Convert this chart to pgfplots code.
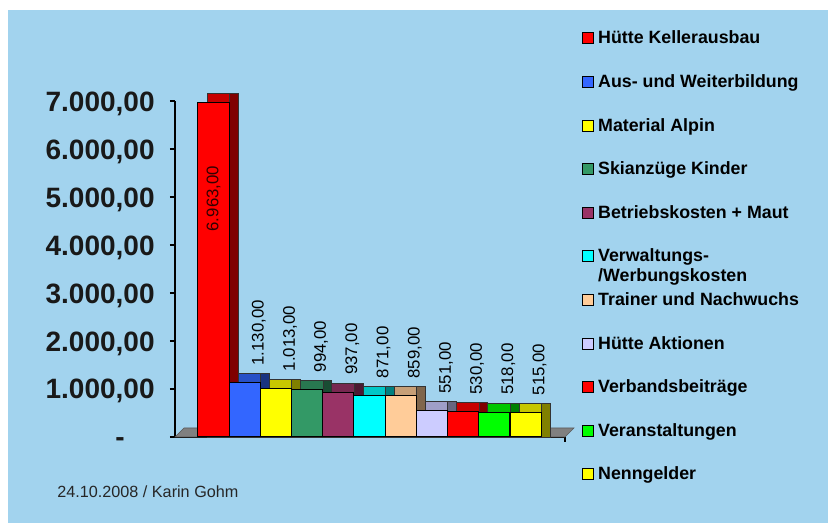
\documentclass[border=0pt]{standalone}
\usepackage{pgfplots}
\pgfplotsset{compat=1.18}
\usepackage{fontspec}
\setmainfont{Liberation Sans}

\definecolor{bgblue}{RGB}{162,211,238}
\definecolor{cRed}{RGB}{255,0,0}
\definecolor{cBlue}{RGB}{51,102,255}
\definecolor{cYellow}{RGB}{255,255,0}
\definecolor{cGreen}{RGB}{51,153,102}
\definecolor{cMaroon}{RGB}{153,51,102}
\definecolor{cCyan}{RGB}{0,255,255}
\definecolor{cPeach}{RGB}{255,204,153}
\definecolor{cLav}{RGB}{204,204,255}
\definecolor{cLime}{RGB}{0,255,0}

% one bar: x, value, colour, label style, legend text
% (top face, side face, front face)
\newcommand\cbar[5]{%
  \addplot[fill=#3!78!black, draw=black!80, line width=0.3pt, bar shift=4.5pt,
    forget plot, y filter/.expression={y+187.5}] coordinates {(#1,#2)};
  \addplot[fill=#3!50!black, draw=black!80, line width=0.3pt, bar width=0.288,
    bar shift=10.05pt, forget plot, y filter/.expression={y+187.5}] coordinates {(#1,#2)};
  \addplot[fill=#3, draw=black, line width=0.5pt,
    nodes near coords, nodes near coords style={#4}] coordinates {(#1,#2)};
  \addlegendentry{\strut #5}
}

\tikzset{
  lab/.style={xshift=7pt, yshift=5pt, rotate=90, anchor=west, text=black},
  labin/.style={yshift=-28pt, rotate=90, anchor=east, text=black!80!red},
}

\begin{document}
\begin{tikzpicture}
\fill[white] (-87.5pt,218.5pt) rectangle (326.5pt,-43pt);
\fill[bgblue] (-83.5pt,213.5pt) rectangle (326.5pt,-43pt);
\begin{axis}[
  scale only axis, width=195pt, height=168pt,
  ybar, bar shift=0pt, bar width=1,
  clip=false, enlargelimits=false,
  xmin=-1.237, xmax=11.263, ymin=0, ymax=7000,
  axis x line*=bottom, axis y line*=left,
  axis line style={black, line width=0.6pt},
  tick align=outside, major tick length=2.5pt,
  tick style={black, line width=0.6pt},
  xtick={11.263}, xticklabels={},
  ytick={0,1000,...,7000},
  yticklabels={{-\kern15pt},{1.000,00},{2.000,00},{3.000,00},{4.000,00},{5.000,00},{6.000,00},{7.000,00}},
  yticklabel style={font=\bfseries\fontsize{14}{16}\selectfont, text=black!90,
    anchor=east, inner sep=0pt, text height=10pt, text depth=0pt, xshift=-7.5pt},
  /pgf/number format/.cd, fixed, fixed zerofill, precision=2, use comma,
    1000 sep={.}, assume math mode=true, /pgfplots/.cd,
  every node near coord/.append style={font=\fontsize{8.4}{10}\selectfont},
  legend image code/.code={\draw[#1, draw=black, line width=0.5pt] (0pt,-2.75pt) rectangle (5.5pt,2.75pt);},
  legend style={draw=none, fill=none, at={(1.043,1.219)}, anchor=north west,
    inner sep=0pt, row sep=11.3pt, column sep=1pt,
    nodes={inner sep=1pt},
    font=\bfseries\fontsize{8.9}{10}\selectfont},
  legend cell align=left,
]
% floor
\addplot[sharp plot, fill=gray, draw=gray!70!black, line width=0.3pt, forget plot]
  coordinates {(-1.237,0) (-0.95,187.5) (11.55,187.5) (11.263,0)} --cycle;

\cbar{0}{6963}{cRed}{labin}{Hütte Kellerausbau}
\cbar{1}{1130}{cBlue}{lab}{Aus- und Weiterbildung}
\cbar{2}{1013}{cYellow}{lab}{Material Alpin}
\cbar{3}{994}{cGreen}{lab}{Skianzüge Kinder}
\cbar{4}{937}{cMaroon}{lab}{Betriebskosten + Maut}
\cbar{5}{871}{cCyan}{lab}{\raisebox{0pt}[\height][\dp\strutbox]{\begin{tabular}[t]{@{}l@{}}Verwaltungs-\\/Werbungskosten\end{tabular}}}
\cbar{6}{859}{cPeach}{lab}{Trainer und Nachwuchs}
\cbar{7}{551}{cLav}{lab}{Hütte Aktionen}
\cbar{8}{530}{cRed}{lab}{Verbandsbeiträge}
\cbar{9}{518}{cLime}{lab}{Veranstaltungen}
\cbar{10}{515}{cYellow}{lab}{Nenngelder}

\node[anchor=west, inner sep=0pt, font=\fontsize{8.1}{10}\selectfont, text=black!85]
  at (rel axis cs:-0.3026,-0.1637) {24.10.2008 / Karin Gohm};
\end{axis}
\pgfresetboundingbox
\path[use as bounding box] (-87.5pt,218.5pt) rectangle (326.5pt,-43pt);
\end{tikzpicture}
\end{document}
